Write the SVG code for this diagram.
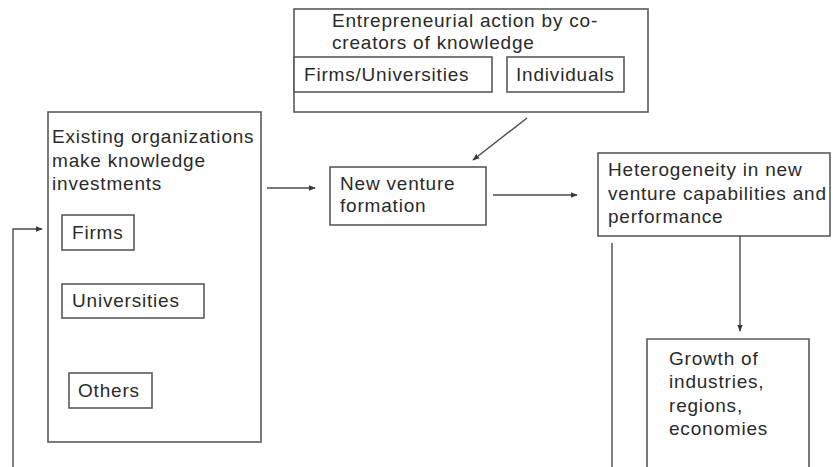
<svg xmlns="http://www.w3.org/2000/svg" width="833" height="467" viewBox="0 0 833 467">
  <style>
    .box { fill: #ffffff; stroke: #5a5a5a; stroke-width: 1.6; }
    .txt { font-family: "Liberation Sans", Arial, sans-serif; font-size: 19px; letter-spacing: 0.8px; fill: #2a2a2a; }
    .ln { fill: none; stroke: #4a4a4a; stroke-width: 1.4; }
    .arr { fill: none; stroke: #4a4a4a; stroke-width: 1.4; marker-end: url(#ah); }
  </style>
  <defs>
    <marker id="ah" viewBox="0 0 10 10" refX="9" refY="5" markerWidth="7" markerHeight="7" markerUnits="userSpaceOnUse" orient="auto">
      <path d="M0,1 L10,5 L0,9 Z" fill="#3a3a3a"/>
    </marker>
  </defs>
  <rect width="833" height="467" fill="#ffffff"/>

  <g id="entrepreneurial">
    <rect class="box" x="294" y="9" width="354" height="103"/>
    <text class="txt" x="332" y="27">Entrepreneurial action by co-</text>
    <text class="txt" x="332" y="49">creators of knowledge</text>
    <g id="firms-universities">
      <rect class="box" x="294" y="57" width="198" height="35"/>
      <text class="txt" x="304" y="81">Firms/Universities</text>
    </g>
    <g id="individuals">
      <rect class="box" x="507" y="57" width="117" height="35"/>
      <text class="txt" x="516" y="81">Individuals</text>
    </g>
  </g>

  <g id="existing">
    <rect class="box" x="48" y="112" width="213" height="330"/>
    <text class="txt" x="52" y="143">Existing organizations</text>
    <text class="txt" x="52" y="166.5">make knowledge</text>
    <text class="txt" x="52" y="190">investments</text>
    <g id="firms">
      <rect class="box" x="62" y="215" width="72" height="35"/>
      <text class="txt" x="72" y="239">Firms</text>
    </g>
    <g id="universities">
      <rect class="box" x="62" y="284" width="142" height="34"/>
      <text class="txt" x="72" y="307">Universities</text>
    </g>
    <g id="others">
      <rect class="box" x="69" y="373" width="83" height="35"/>
      <text class="txt" x="78" y="397">Others</text>
    </g>
  </g>

  <g id="new-venture">
    <rect class="box" x="330" y="167" width="156" height="58"/>
    <text class="txt" x="340" y="190">New venture</text>
    <text class="txt" x="340" y="212">formation</text>
  </g>

  <g id="heterogeneity">
    <rect class="box" x="598" y="153" width="232" height="83"/>
    <text class="txt" x="608" y="176">Heterogeneity in new</text>
    <text class="txt" x="608" y="200">venture capabilities and</text>
    <text class="txt" x="608" y="223">performance</text>
  </g>

  <g id="growth">
    <path class="box" d="M647,470 L647,339 L809,339 L809,470"/>
    <text class="txt" x="669" y="365">Growth of</text>
    <text class="txt" x="669" y="388">industries,</text>
    <text class="txt" x="669" y="412">regions,</text>
    <text class="txt" x="669" y="435">economies</text>
  </g>

  <g id="connectors">
    <line class="arr" x1="267" y1="188" x2="315" y2="188"/>
    <line class="arr" x1="527" y1="118" x2="473" y2="160"/>
    <line class="arr" x1="493" y1="195" x2="577" y2="195"/>
    <line class="arr" x1="740" y1="236" x2="740" y2="331"/>
    <line class="ln" x1="612" y1="243" x2="612" y2="470"/>
    <path class="arr" d="M13,470 L13,229 L42,229"/>
  </g>
</svg>
